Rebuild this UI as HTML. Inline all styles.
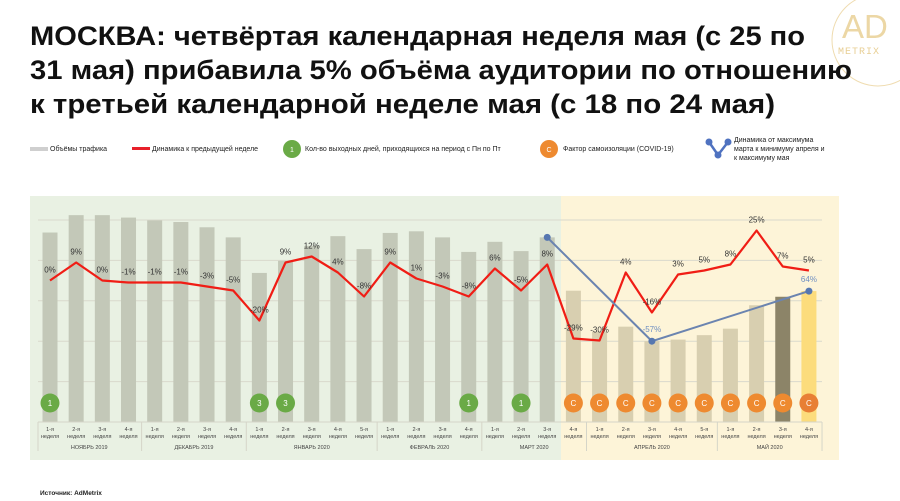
<!DOCTYPE html>
<html><head><meta charset="utf-8"><style>
body{margin:0;width:900px;height:501px;background:#fff;overflow:hidden;font-family:"Liberation Sans","Noto Sans CJK SC",sans-serif}
svg{position:absolute;left:0;top:0}
</style></head><body>
<svg width="900" height="501" xmlns="http://www.w3.org/2000/svg" id="chart">
<g>
<circle cx="878" cy="40" r="46" fill="none" stroke="#efdcb0" stroke-width="1"/>
<text x="842" y="38" font-size="33" fill="#ecd7a5" font-weight="300">AD</text>
<text x="838" y="54" font-size="10" fill="#e8cf95" font-family="Liberation Mono,monospace" letter-spacing="1">METRIX</text>
</g>
<g font-size="27" font-weight="bold" fill="#111">
<text x="30" y="45" textLength="775" lengthAdjust="spacingAndGlyphs">МОСКВА: четвёртая календарная неделя мая (с 25 по</text>
<text x="30" y="79" textLength="822" lengthAdjust="spacingAndGlyphs">31 мая) прибавила 5% объёма аудитории по отношению</text>
<text x="30" y="113" textLength="745" lengthAdjust="spacingAndGlyphs">к третьей календарной неделе мая (с 18 по 24 мая)</text>
</g>
<g font-size="7" fill="#222">
<rect x="30" y="147" width="18" height="4" fill="#cfcfcf"/>
<text x="50" y="151">Объёмы трафика</text>
<rect x="132" y="147" width="18" height="3" fill="#e8202a"/>
<text x="152" y="151">Динамика к предыдущей неделе</text>
<circle cx="292" cy="149" r="9" fill="#6aaa46"/>
<text x="292" y="152" fill="#fff" text-anchor="middle">1</text>
<text x="305" y="151">Кол-во выходных дней, приходящихся на период с Пн по Пт</text>
<circle cx="549" cy="149" r="9" fill="#ee8a30"/>
<text x="549" y="152" fill="#fff" text-anchor="middle">С</text>
<text x="563" y="151">Фактор самоизоляции (COVID-19)</text>
<polyline points="709,142 718,155 728,142" fill="none" stroke="#4f72c0" stroke-width="2.5"/>
<circle cx="709" cy="142" r="3.5" fill="#4f72c0"/><circle cx="718" cy="155" r="3.5" fill="#4f72c0"/><circle cx="728" cy="142" r="3.5" fill="#4f72c0"/>
<text x="734" y="142">Динамика от максимума</text>
<text x="734" y="151">марта к минимуму апреля и</text>
<text x="734" y="160">к максимуму мая</text>
</g>
<rect x="30" y="196" width="531" height="264" fill="#e9f1e3"/>
<rect x="561" y="196" width="278" height="264" fill="#fdf4d8"/>
<g id="grid"></g><g id="bars"></g><g id="lines"></g><g id="axis"></g>
<text x="40" y="495" font-size="6.5" font-weight="bold" fill="#222">Источник: AdMetrix</text>
</svg>
<script>
const weeks=["1-я","2-я","3-я","4-я","1-я","2-я","3-я","4-я","1-я","2-я","3-я","4-я","5-я","1-я","2-я","3-я","4-я","1-я","2-я","3-я","4-я","1-я","2-я","3-я","4-я","5-я","1-я","2-я","3-я","4-я"];
const months=["НОЯБРЬ 2019","ДЕКАБРЬ 2019","ЯНВАРЬ 2020","ФЕВРАЛЬ 2020","МАРТ 2020","АПРЕЛЬ 2020","МАЙ 2020"];
const monthSpans=[4,4,5,4,4,5,4];
const traffic=[4.69,5.12,5.12,5.06,4.99,4.95,4.82,4.57,3.69,3.99,4.36,4.60,4.28,4.68,4.72,4.57,4.21,4.46,4.23,4.57,3.25,2.24,2.36,2.0,2.04,2.15,2.31,2.89,3.1,3.24];
const dynamics=[0,9,0,-1,-1,-1,-3,-5,-20,9,12,4,-8,9,1,-3,-8,6,-5,8,-29,-30,4,-16,3,5,8,25,7,5];
const weekendIdx=[0,8,9,16,18];
const weekendVals=["1","3","3","1","1"];
const covidStart=20;
const blueIdx=[19,23,29];
const blueLabels=["","-57%","64%"];
const NS="http://www.w3.org/2000/svg";
const base=422,unit=40.4;
const x=i=>50+i*26.17;
const yB=v=>base-v*unit;
const yL=p=>280.5-2*p;
function mk(t,a,parent){const e=document.createElementNS(NS,t);for(const k in a)e.setAttribute(k,a[k]);document.getElementById(parent).appendChild(e);return e;}
for(let g=1;g<=5;g++){const l=mk('line',{x1:38,x2:822,y1:yB(g),y2:yB(g),stroke:'#d9d9cc','stroke-width':1},'grid');

}
traffic.forEach((v,i)=>{let c=i<covidStart?'#c3c8b8':'#d8cfb0';if(i==28)c='#8c8468';if(i==29)c='#fcdc7c';
const r=mk('rect',{x:x(i)-7.5,y:yB(v),width:15,height:base-yB(v),fill:c},'bars');

});
weekendIdx.forEach((i,k)=>{const c=mk('circle',{cx:x(i),cy:403,r:9.5,fill:'#6aaa46'},'bars');


const t=mk('text',{x:x(i),y:406,'font-size':8,fill:'#fff','text-anchor':'middle'},'bars');t.textContent=weekendVals[k];});
for(let i=covidStart;i<traffic.length;i++){const c=mk('circle',{cx:x(i),cy:403,r:9.5,fill:i==29?'#e87f35':'#ee8a30'},'bars');


const t=mk('text',{x:x(i),y:406,'font-size':8,fill:'#fff','text-anchor':'middle'},'bars');t.textContent='С';}
const pl=mk('polyline',{points:dynamics.map((p,i)=>x(i)+','+yL(p)).join(' '),fill:'none',stroke:'#f01d15','stroke-width':2.2,'stroke-linejoin':'round'},'lines');


dynamics.forEach((p,i)=>{const t=mk('text',{x:x(i),y:yL(p)-8,'font-size':8,fill:'#333','text-anchor':'middle'},'lines');t.textContent=p+'%';

});
const bl=mk('polyline',{points:blueIdx.map(i=>x(i)+','+yB(traffic[i])).join(' '),fill:'none',stroke:'#6b84b0','stroke-width':2},'lines');


blueIdx.forEach((i,k)=>{const c=mk('circle',{cx:x(i),cy:yB(traffic[i]),r:3.5,fill:'#5677b0'},'lines');


if(blueLabels[k]){const t=mk('text',{x:x(i),y:yB(traffic[i])-9,'font-size':8,fill:'#6f8fc2','text-anchor':'middle'},'lines');t.textContent=blueLabels[k];}});
mk('line',{x1:38,x2:822,y1:base,y2:base,stroke:'#d5d5c8'},'axis');
weeks.forEach((w,i)=>{const t=mk('text',{x:x(i),y:431,'font-size':5.5,fill:'#444','text-anchor':'middle'},'axis');t.textContent=w;


const t2=mk('text',{x:x(i),y:438,'font-size':5.5,fill:'#444','text-anchor':'middle'},'axis');t2.textContent='неделя';});
let s=0;mk('line',{x1:38,x2:38,y1:base,y2:451,stroke:'#d5d5c8'},'axis');
months.forEach((m,k)=>{const e=s+monthSpans[k]-1;const t=mk('text',{x:(x(s)+x(e))/2,y:449,'font-size':5.5,fill:'#444','text-anchor':'middle'},'axis');t.textContent=m;


const sx=x(e)+13.1;mk('line',{x1:sx,x2:sx,y1:base,y2:451,stroke:'#d5d5c8'},'axis');s=e+1;});
</script>
</body></html>
